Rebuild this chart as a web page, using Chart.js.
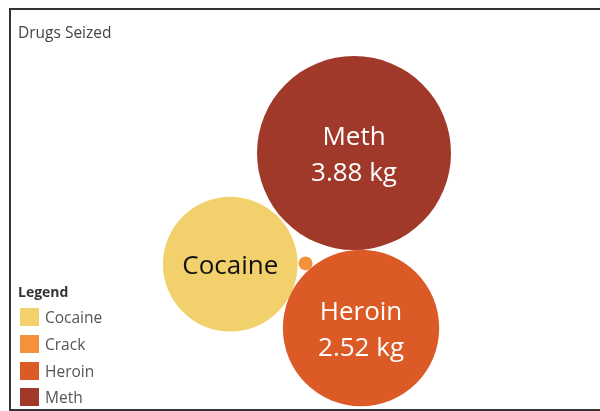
<!DOCTYPE html>
<html>
<head>
<meta charset="utf-8">
<script src="https://cdn.jsdelivr.net/npm/chart.js@4"></script>
<style>
    body { margin: 0; background: #fff; font-family: "Open Sans", sans-serif; }
    #wrap { position: relative; width: 600px; height: 411px; overflow: hidden; }
    #frame { position: absolute; left: 9px; top: 8px; width: 620px; height: 399px;
             border: 2px solid #333; border-right: none; }
    #title { position: absolute; left: 18px; top: 21px; font-size: 15.5px; color: #444; }
    #legend { position: absolute; left: 18px; top: 282px; color: #555; font-size: 15.5px; }
    #legend .head { font-weight: bold; font-size: 14px; color: #333; margin-bottom: 3px; }
    #legend .item { display: flex; align-items: center; height: 26.7px; }
    #legend .sw { width: 19px; height: 18px; margin-left: 2px; margin-right: 6px; }
    canvas { position: absolute; left: 0; top: 0; }
</style>
</head>
<body>
<div id="wrap">
    <div id="frame"></div>
    <canvas id="bubbleChart" width="600" height="411"></canvas>
    <div id="title">Drugs Seized</div>
    <div id="legend"><div class="head">Legend</div></div>
</div>
<script>
const drugs = ['Cocaine', 'Crack', 'Heroin', 'Meth'];
const seizedKg = [1.87, 0.02, 2.52, 3.88];
const drugColors = ['#F2D06B', '#F3923A', '#DC5A25', '#A0392A'];
const labelColors = ['#111111', '#ffffff', '#ffffff', '#ffffff'];
const showWeight = [false, false, true, true];

// bubble area proportional to weight
const maxRadius = 97;
const maxKg = Math.max(...seizedKg);
const radii = seizedKg.map(v => maxRadius * Math.sqrt(v / maxKg));

// place circle of radius r touching circles a and b (optional gaps)
function tangentTo(a, b, r, side, gapA, gapB) {
    const dx = b.x - a.x, dy = b.y - a.y, d = Math.hypot(dx, dy);
    const da = a.r + r + gapA, db = b.r + r + gapB;
    const cos = (da * da + d * d - db * db) / (2 * da * d);
    const t = side * Math.acos(Math.max(-1, Math.min(1, cos)));
    const ux = dx / d, uy = dy / d;
    return {
        x: a.x + da * (ux * Math.cos(t) - uy * Math.sin(t)),
        y: a.y + da * (ux * Math.sin(t) + uy * Math.cos(t)),
        r: r
    };
}

// simple packing: biggest first, then tangent to the previous ones
function packBubbles() {
    const order = drugs.map((d, i) => i).sort((a, b) => seizedKg[b] - seizedKg[a]);
    const pos = [];
    const first = { x: 354, y: 153, r: radii[order[0]] };
    pos[order[0]] = first;
    const ang = 87.7 * Math.PI / 180;
    const dist = first.r + radii[order[1]];
    const second = { x: first.x + dist * Math.cos(ang), y: first.y + dist * Math.sin(ang), r: radii[order[1]] };
    pos[order[1]] = second;
    const third = tangentTo(first, second, radii[order[2]], 1, 2, 0);
    pos[order[2]] = third;
    pos[order[3]] = tangentTo(third, second, radii[order[3]], -1, 1, 0);
    return pos;
}

const packed = packBubbles();

const legendEl = document.getElementById('legend');
drugs.forEach((d, i) => {
    const item = document.createElement('div');
    item.className = 'item';
    item.innerHTML = '<span class="sw" style="background:' + drugColors[i] + '"></span>' + d;
    legendEl.appendChild(item);
});

const bubbleLabels = {
    id: 'bubbleLabels',
    afterDatasetsDraw(chart) {
        const ctx = chart.ctx;
        chart.data.datasets.forEach((ds, di) => {
            const meta = chart.getDatasetMeta(di);
            meta.data.forEach((el, i) => {
                if (radii[i] < 30) return;
                ctx.save();
                ctx.fillStyle = labelColors[i];
                ctx.font = '26px "Open Sans", sans-serif';
                ctx.textAlign = 'center';
                ctx.textBaseline = 'middle';
                const y = el.y + 2.5;
                if (showWeight[i]) {
                    ctx.fillText(drugs[i], el.x, y - 18);
                    ctx.fillText(seizedKg[i].toFixed(2) + ' kg', el.x, y + 18);
                } else {
                    ctx.fillText(drugs[i], el.x, y);
                }
                ctx.restore();
            });
        });
    }
};

new Chart(document.getElementById('bubbleChart').getContext('2d'), {
    type: 'bubble',
    data: {
        labels: drugs,
        datasets: [{
            label: 'Drugs Seized',
            data: drugs.map((d, i) => ({ x: packed[i].x, y: packed[i].y, r: radii[i] })),
            backgroundColor: drugColors,
            borderWidth: 0,
            hoverBorderWidth: 0,
            clip: false
        }]
    },
    options: {
        responsive: false,
        animation: false,
        plugins: {
            legend: { display: false },
            tooltip: { enabled: false }
        },
        layout: { padding: 0, autoPadding: false },
        scales: {
            x: { type: 'linear', min: 0, max: 600, display: false },
            y: { type: 'linear', min: 0, max: 411, reverse: true, display: false }
        }
    },
    plugins: [bubbleLabels]
});
</script>
</body>
</html>
